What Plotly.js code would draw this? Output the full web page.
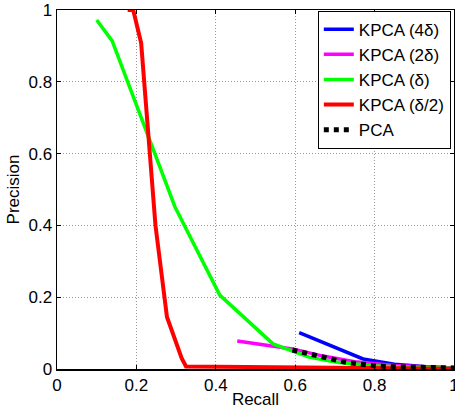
<!DOCTYPE html>
<html>
<head>
<meta charset="utf-8">
<script src="https://cdn.plot.ly/plotly-3.0.1.min.js"></script>
<style>html,body{margin:0;padding:0;background:#fff;}#chart{width:455px;height:409px;}</style>
</head>
<body>
<div id="chart"></div>
<script>
var seriesNames = ["KPCA (4δ)", "KPCA (2δ)", "KPCA (δ)", "KPCA (δ/2)", "PCA"];

var recall4d = [0.610, 0.771, 0.85, 0.93, 1.0];
var prec4d   = [0.101, 0.028, 0.013, 0.006, 0.003];

var recall2d = [0.454, 0.593, 0.67, 0.75, 0.85, 1.0];
var prec2d   = [0.078, 0.056, 0.036, 0.020, 0.010, 0.003];

var recallD = [0.100, 0.139, 0.297, 0.410, 0.544, 0.593, 0.635, 0.705, 0.80, 0.90, 1.0];
var precD   = [0.972, 0.914, 0.452, 0.206, 0.070, 0.050, 0.033, 0.019, 0.009, 0.004, 0.002];

var recallHalf = [0.178, 0.192, 0.212, 0.248, 0.277, 0.314, 0.325, 0.5, 0.7, 1.0];
var precHalf   = [1.0, 1.0, 0.908, 0.40, 0.145, 0.030, 0.007, 0.005, 0.003, 0.001];

var recallPCA = [0.593, 0.619, 0.644, 0.669, 0.695, 0.721, 0.747, 0.773, 0.799, 0.85, 0.90, 1.0];
var precPCA   = [0.053, 0.046, 0.041, 0.034, 0.027, 0.020, 0.016, 0.012, 0.009, 0.006, 0.004, 0.003];

var xTicks = [0, 0.2, 0.4, 0.6, 0.8, 1];
var yTicks = [0, 0.2, 0.4, 0.6, 0.8, 1];

var traces = [
  {x: recall4d, y: prec4d, name: seriesNames[0], mode: "lines", line: {color: "#0000ff", width: 3.5}},
  {x: recall2d, y: prec2d, name: seriesNames[1], mode: "lines", line: {color: "#ff00ff", width: 3.5}},
  {x: recallD, y: precD, name: seriesNames[2], mode: "lines", line: {color: "#00ff00", width: 3.5}},
  {x: recallHalf, y: precHalf, name: seriesNames[3], mode: "lines", line: {color: "#ff0000", width: 4}},
  {x: recallPCA, y: precPCA, name: seriesNames[4], mode: "lines", line: {color: "#000000", width: 5, dash: "5px,5px"}}
];

var fontFam = "Liberation Sans, Arial, sans-serif";
var layout = {
  width: 455, height: 409,
  margin: {l: 57, r: 1, t: 10, b: 40},
  paper_bgcolor: "#fff", plot_bgcolor: "#fff",
  font: {family: fontFam, size: 17, color: "#000"},
  showlegend: true,
  legend: {
    x: 0.992, y: 0.998, xanchor: "right", yanchor: "top",
    bgcolor: "#fff", bordercolor: "#000", borderwidth: 1,
    font: {family: fontFam, size: 17, color: "#000"},
    tracegroupgap: 0
  },
  xaxis: {
    range: [0, 1], tickvals: xTicks, ticktext: xTicks.map(String),
    ticklabeloverflow: "allow",
    showline: true, linecolor: "#000", linewidth: 1.5, mirror: "ticks",
    ticks: "inside", ticklen: 4, tickcolor: "#000",
    showgrid: true, gridcolor: "#999999", griddash: "1px,2px", gridwidth: 1,
    zeroline: false,
    title: {text: "Recall", font: {size: 17}, standoff: 2}
  },
  yaxis: {
    range: [0, 1], tickvals: yTicks, ticktext: yTicks.map(String),
    ticklabeloverflow: "allow",
    showline: true, linecolor: "#000", linewidth: 1.5, mirror: "ticks",
    ticks: "inside", ticklen: 4, tickcolor: "#000",
    showgrid: true, gridcolor: "#999999", griddash: "1px,2px", gridwidth: 1,
    zeroline: false,
    title: {text: "Precision", font: {size: 17}, standoff: 4}
  }
};

Plotly.newPlot("chart", traces, layout, {displayModeBar: false, staticPlot: true});
</script>
</body>
</html>
